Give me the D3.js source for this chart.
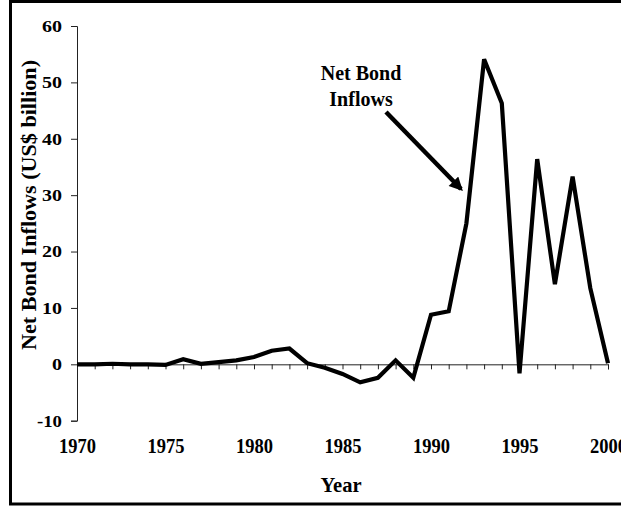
<!DOCTYPE html>
<html lang="en">
<head>
  <meta charset="UTF-8">
  <title>Net Bond Inflows</title>
  <style>
    body { margin: 0; background: #fff; }
    svg text { font-family: "Liberation Serif", "Times New Roman", serif; font-weight: bold; fill: #000; }
  </style>
</head>
<body>
  <div id="chart"></div>
  <script src="https://d3js.org/d3.v7.min.js"></script>
  <script>
    // data
    var years = d3.range(1970, 2001);
    var inflows = [
      0, 0, 0.1, 0, 0, -0.1,          // 1970-1975
      0.9, 0.1, 0.4, 0.7, 1.3,        // 1976-1980
      2.4, 2.8, 0.2, -0.6, -1.7,      // 1981-1985
      -3.2, -2.4, 0.7, -2.4, 8.8,     // 1986-1990
      9.4, 25.0, 54.1, 46.3, -1.6,    // 1991-1995
      36.4, 14.2, 33.3, 13.5, 0.2     // 1996-2000
    ];
    var yTicks = [-10, 0, 10, 20, 30, 40, 50, 60];
    var xLabels = [1970, 1975, 1980, 1985, 1990, 1995, 2000];

    var width = 621, height = 506;
    var svg = d3.select("#chart").append("svg")
      .attr("width", width)
      .attr("height", height);

    // outer frame (runs off the right edge like the original)
    svg.append("rect")
      .attr("x", 10.5).attr("y", 1.5)
      .attr("width", 700).attr("height", 502.5)
      .attr("fill", "none")
      .attr("stroke", "#000")
      .attr("stroke-width", 3);

    var x = d3.scaleLinear().domain([1970, 2000]).range([77, 608]);
    var y = d3.scaleLinear().domain([-10, 60]).range([420.7, 26]);

    // y axis
    var yAxis = svg.append("g")
      .attr("transform", "translate(77,0)")
      .call(d3.axisLeft(y).tickValues(yTicks).tickSize(6).tickPadding(9)
        .tickFormat(function(d) { return String(d); }));
    yAxis.selectAll("text")
      .attr("font-size", 17)
      .attr("textLength", function(d) { return d < 0 ? 25 : String(d).length * 10; })
      .attr("lengthAdjust", "spacingAndGlyphs");

    // x axis along zero, a tick each year, no labels there
    var xAxis = svg.append("g")
      .attr("transform", "translate(0," + y(0) + ")")
      .call(d3.axisBottom(x).tickValues(years).tickSize(5).tickFormat(""));

    svg.selectAll(".domain, .tick line").attr("stroke", "#222").attr("stroke-width", 1);

    // year labels sit below the plot
    var xLab = svg.append("g")
      .attr("transform", "translate(0,439)")
      .call(d3.axisBottom(x).tickValues(xLabels).tickSize(0).tickPadding(0).tickFormat(d3.format("d")));
    xLab.select(".domain").remove();
    xLab.selectAll("text")
      .attr("font-size", 20)
      .attr("dy", "0.71em")
      .attr("textLength", 37)
      .attr("lengthAdjust", "spacingAndGlyphs");

    svg.selectAll(".tick text").style("font-family", "'Liberation Serif', serif").style("font-weight", "bold");

    // axis titles
    svg.append("text")
      .attr("x", 341).attr("y", 492)
      .attr("text-anchor", "middle")
      .attr("font-size", 21)
      .attr("textLength", 41)
      .attr("lengthAdjust", "spacingAndGlyphs")
      .text("Year");

    svg.append("text")
      .attr("transform", "translate(36,205) rotate(-90)")
      .attr("text-anchor", "middle")
      .attr("font-size", 21)
      .attr("textLength", 290)
      .attr("lengthAdjust", "spacingAndGlyphs")
      .text("Net Bond Inflows (US$ billion)");

    // the series
    var line = d3.line()
      .x(function(d, i) { return x(years[i]); })
      .y(function(d) { return y(d); });

    svg.append("path")
      .datum(inflows)
      .attr("d", line)
      .attr("fill", "none")
      .attr("stroke", "#000")
      .attr("stroke-width", 4.2)
      .attr("stroke-linejoin", "miter");

    // annotation with arrow
    svg.append("defs").append("marker")
      .attr("id", "head")
      .attr("viewBox", "0 0 10 10")
      .attr("refX", 8).attr("refY", 5)
      .attr("markerWidth", 3.2).attr("markerHeight", 3)
      .attr("orient", "auto")
      .append("path")
      .attr("d", "M0,0 L10,5 L0,10 Z")
      .attr("fill", "#000");

    svg.append("line")
      .attr("x1", 386).attr("y1", 112)
      .attr("x2", 461).attr("y2", 189)
      .attr("stroke", "#000")
      .attr("stroke-width", 4.5)
      .attr("marker-end", "url(#head)");

    var note = svg.append("text")
      .attr("text-anchor", "middle")
      .attr("font-size", 20);
    note.append("tspan").attr("x", 361).attr("y", 80).text("Net Bond");
    note.append("tspan").attr("x", 361).attr("y", 106).text("Inflows");
  </script>
</body>
</html>
